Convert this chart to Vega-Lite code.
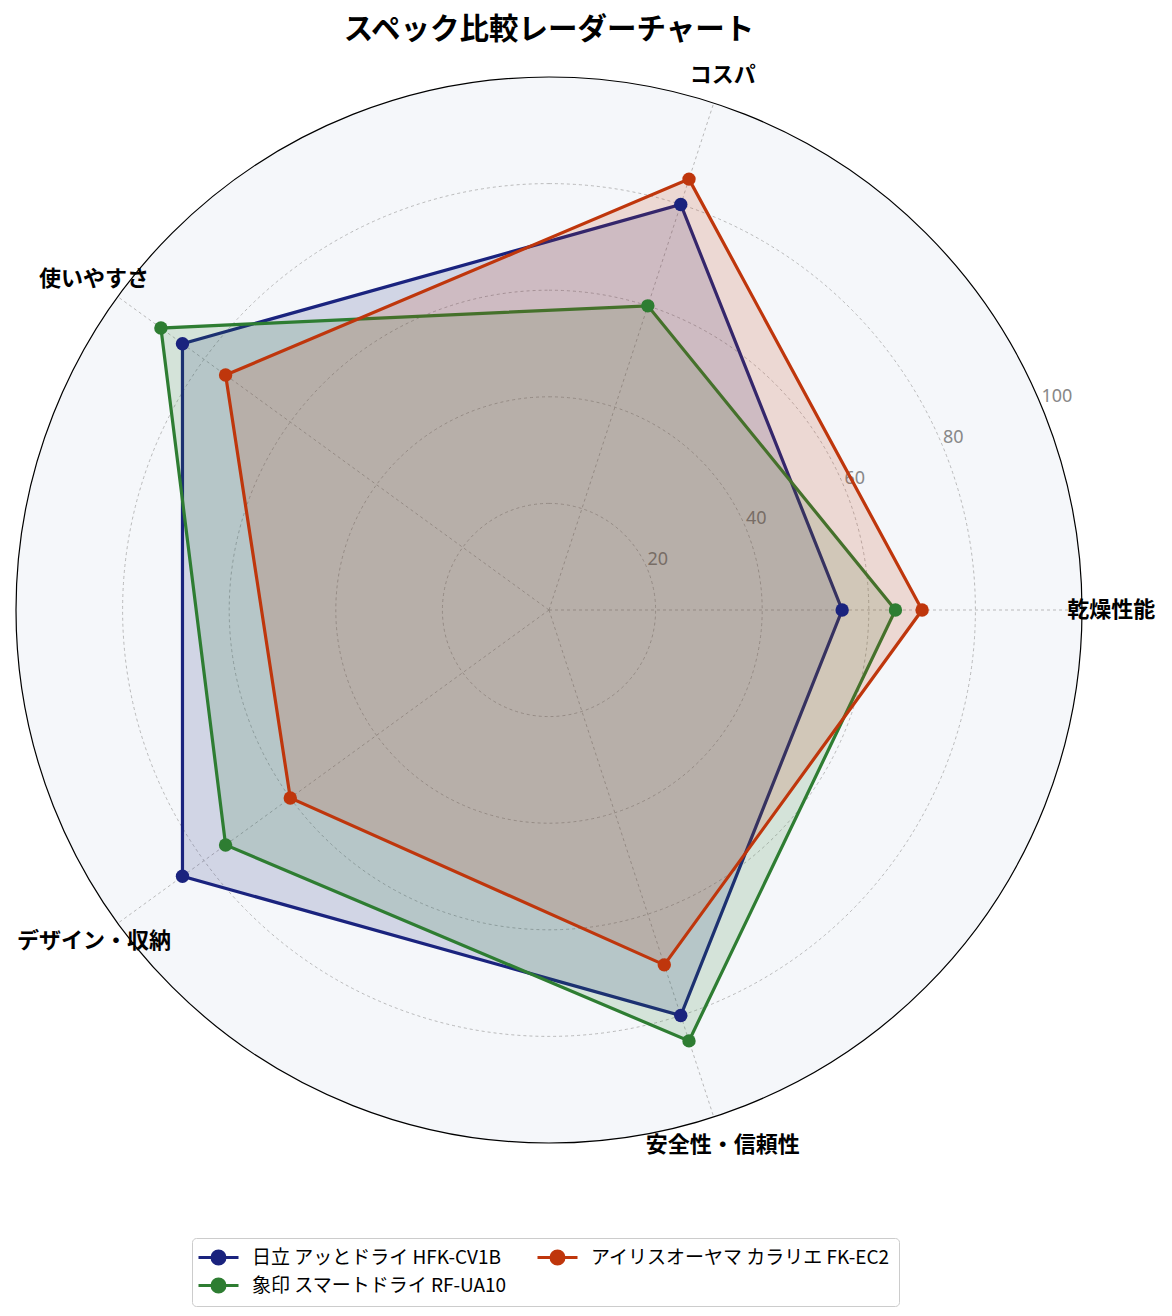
{
  "$schema": "https://vega.github.io/schema/vega-lite/v6.json",
  "width": 1066,
  "height": 1066,
  "autosize": {"type": "none"},
  "padding": {"left": 16, "top": 77, "right": 90, "bottom": 173},
  "background": "white",
  "title": {"text": "スペック比較レーダーチャート", "fontSize": 29.5, "fontWeight": "bold", "font": "Noto Sans CJK JP", "color": "#000000", "anchor": "middle", "offset": 19},
  "config": {"view": {"stroke": null}},
  "datasets": {
    "axes": [
      {"axis": "乾燥性能", "idx": 0},
      {"axis": "コスパ", "idx": 1},
      {"axis": "使いやすさ", "idx": 2},
      {"axis": "デザイン・収納", "idx": 3},
      {"axis": "安全性・信頼性", "idx": 4}
    ],
    "scores": [
      {"product": "日立 アッとドライ HFK-CV1B", "axis": "乾燥性能", "value": 55},
      {"product": "日立 アッとドライ HFK-CV1B", "axis": "コスパ", "value": 80},
      {"product": "日立 アッとドライ HFK-CV1B", "axis": "使いやすさ", "value": 85},
      {"product": "日立 アッとドライ HFK-CV1B", "axis": "デザイン・収納", "value": 85},
      {"product": "日立 アッとドライ HFK-CV1B", "axis": "安全性・信頼性", "value": 80},
      {"product": "象印 スマートドライ RF-UA10", "axis": "乾燥性能", "value": 65},
      {"product": "象印 スマートドライ RF-UA10", "axis": "コスパ", "value": 60},
      {"product": "象印 スマートドライ RF-UA10", "axis": "使いやすさ", "value": 90},
      {"product": "象印 スマートドライ RF-UA10", "axis": "デザイン・収納", "value": 75},
      {"product": "象印 スマートドライ RF-UA10", "axis": "安全性・信頼性", "value": 85},
      {"product": "アイリスオーヤマ カラリエ FK-EC2", "axis": "乾燥性能", "value": 70},
      {"product": "アイリスオーヤマ カラリエ FK-EC2", "axis": "コスパ", "value": 85},
      {"product": "アイリスオーヤマ カラリエ FK-EC2", "axis": "使いやすさ", "value": 75},
      {"product": "アイリスオーヤマ カラリエ FK-EC2", "axis": "デザイン・収納", "value": 60},
      {"product": "アイリスオーヤマ カラリエ FK-EC2", "axis": "安全性・信頼性", "value": 70}
    ],
    "rings": [{"r": 20}, {"r": 40}, {"r": 60}, {"r": 80}],
    "ticks": [{"r": 20}, {"r": 40}, {"r": 60}, {"r": 80}, {"r": 100}],
    "outer": [{"r": 100}]
  },
  "layer": [
    {
      "data": {"name": "outer"},
      "mark": {"type": "arc", "theta": 0, "theta2": 6.283185307179586, "fill": "#f5f7fa", "stroke": null},
      "encoding": {
        "radius": {"field": "r", "type": "quantitative", "stack": null, "scale": {"type": "linear", "domain": [0, 100], "range": [0, 533], "zero": true}}
      }
    },
    {
      "data": {"name": "rings"},
      "mark": {"type": "arc", "theta": 0, "theta2": 6.283185307179586, "filled": false, "fill": null, "stroke": "#aaaaaa", "strokeDash": [3, 3], "strokeWidth": 0.8},
      "encoding": {
        "radius": {"field": "r", "type": "quantitative", "stack": null, "scale": {"type": "linear", "domain": [0, 100], "range": [0, 533], "zero": true}}
      }
    },
    {
      "data": {"name": "axes"},
      "transform": [
        {"calculate": "datum.idx * 2 * PI / 5", "as": "a"},
        {"calculate": "100 * cos(datum.a)", "as": "ex"},
        {"calculate": "100 * sin(datum.a)", "as": "ey"},
        {"calculate": "0", "as": "o"}
      ],
      "mark": {"type": "rule", "stroke": "#aaaaaa", "strokeDash": [3, 3], "strokeWidth": 0.8},
      "encoding": {
        "x": {"field": "o", "type": "quantitative", "scale": {"domain": [-100, 100], "nice": false, "zero": false}, "axis": null},
        "y": {"field": "o", "type": "quantitative", "scale": {"domain": [-100, 100], "nice": false, "zero": false}, "axis": null},
        "x2": {"field": "ex"},
        "y2": {"field": "ey"}
      }
    },
    {
      "data": {"name": "outer"},
      "mark": {"type": "arc", "theta": 0, "theta2": 6.283185307179586, "filled": false, "fill": null, "stroke": "#000000", "strokeWidth": 1.2},
      "encoding": {
        "radius": {"field": "r", "type": "quantitative", "stack": null, "scale": {"type": "linear", "domain": [0, 100], "range": [0, 533], "zero": true}}
      }
    },
    {
      "data": {"name": "ticks"},
      "transform": [
        {"calculate": "PI / 8", "as": "a"},
        {"calculate": "datum.r * cos(datum.a)", "as": "tx"},
        {"calculate": "datum.r * sin(datum.a)", "as": "ty"}
      ],
      "mark": {"type": "text", "align": "left", "baseline": "bottom", "fontSize": 18, "font": "Noto Sans", "fill": "#888888"},
      "encoding": {
        "x": {"field": "tx", "type": "quantitative", "scale": {"domain": [-100, 100], "nice": false, "zero": false}, "axis": null},
        "y": {"field": "ty", "type": "quantitative", "scale": {"domain": [-100, 100], "nice": false, "zero": false}, "axis": null},
        "text": {"field": "r", "type": "quantitative"}
      }
    },
    {
      "data": {"name": "scores"},
      "transform": [
        {"lookup": "axis", "from": {"data": {"name": "axes"}, "key": "axis", "fields": ["idx"]}},
        {"calculate": "datum.idx * 2 * PI / 5", "as": "a"},
        {"calculate": "datum.value * cos(datum.a)", "as": "px"},
        {"calculate": "datum.value * sin(datum.a)", "as": "py"}
      ],
      "mark": {"type": "line", "interpolate": "linear-closed", "strokeWidth": 3.2, "fillOpacity": 0.16},
      "encoding": {
        "x": {"field": "px", "type": "quantitative", "scale": {"domain": [-100, 100], "nice": false, "zero": false}, "axis": null},
        "y": {"field": "py", "type": "quantitative", "scale": {"domain": [-100, 100], "nice": false, "zero": false}, "axis": null},
        "order": {"field": "idx", "type": "quantitative"},
        "color": {"field": "product", "type": "nominal", "scale": {"domain": ["日立 アッとドライ HFK-CV1B", "アイリスオーヤマ カラリエ FK-EC2", "象印 スマートドライ RF-UA10"], "range": ["#1a237e", "#bf360c", "#2e7d32"]}, "title": null},
        "fill": {"field": "product", "type": "nominal", "scale": {"domain": ["日立 アッとドライ HFK-CV1B", "アイリスオーヤマ カラリエ FK-EC2", "象印 スマートドライ RF-UA10"], "range": ["#1a237e", "#bf360c", "#2e7d32"]}, "legend": null}
      }
    },
    {
      "data": {"name": "scores"},
      "transform": [
        {"lookup": "axis", "from": {"data": {"name": "axes"}, "key": "axis", "fields": ["idx"]}},
        {"calculate": "datum.idx * 2 * PI / 5", "as": "a"},
        {"calculate": "datum.value * cos(datum.a)", "as": "px"},
        {"calculate": "datum.value * sin(datum.a)", "as": "py"}
      ],
      "mark": {"type": "point", "shape": "circle", "filled": true, "size": 180, "opacity": 1},
      "encoding": {
        "x": {"field": "px", "type": "quantitative", "scale": {"domain": [-100, 100], "nice": false, "zero": false}, "axis": null},
        "y": {"field": "py", "type": "quantitative", "scale": {"domain": [-100, 100], "nice": false, "zero": false}, "axis": null},
        "color": {
          "field": "product", "type": "nominal",
          "scale": {"domain": ["日立 アッとドライ HFK-CV1B", "アイリスオーヤマ カラリエ FK-EC2", "象印 スマートドライ RF-UA10"], "range": ["#1a237e", "#bf360c", "#2e7d32"]},
          "legend": {
            "title": null,
            "orient": "none",
            "legendX": 176,
            "legendY": 1161,
            "direction": "horizontal",
            "columns": 2,
            "columnPadding": 24,
            "rowPadding": 3,
            "labelFontSize": 19,
            "labelFont": "Noto Sans CJK JP",
            "labelColor": "#000000",
            "labelLimit": 400,
            "labelOffset": 29,
            "symbolType": "M -1.3 0 L 2.7 0 M 0.05 0 A 0.65 0.65 0 1 0 1.35 0 A 0.65 0.65 0 1 0 0.05 0 Z",
            "symbolSize": 400,
            "symbolStrokeWidth": 3,
            "symbolOpacity": 1,
            "fillColor": "#ffffff",
            "strokeColor": "#cccccc",
            "cornerRadius": 4,
            "padding": 8,
            "encode": {"symbols": {"update": {"fill": {"scale": "color", "field": "value"}, "stroke": {"scale": "color", "field": "value"}}}}
          }
        }
      }
    },
    {
      "data": {"name": "axes"},
      "transform": [
        {"calculate": "datum.idx * 2 * PI / 5", "as": "a"},
        {"calculate": "105.5 * cos(datum.a)", "as": "lx"},
        {"calculate": "105.5 * sin(datum.a)", "as": "ly"}
      ],
      "mark": {"type": "text", "align": "center", "baseline": "middle", "fontSize": 22, "fontWeight": "bold", "font": "Noto Sans CJK JP", "fill": "#000000"},
      "encoding": {
        "x": {"field": "lx", "type": "quantitative", "scale": {"domain": [-100, 100], "nice": false, "zero": false}, "axis": null},
        "y": {"field": "ly", "type": "quantitative", "scale": {"domain": [-100, 100], "nice": false, "zero": false}, "axis": null},
        "text": {"field": "axis", "type": "nominal"}
      }
    }
  ]
}
